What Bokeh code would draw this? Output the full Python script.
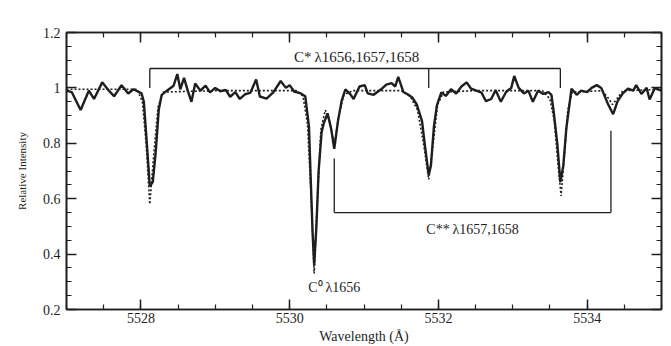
from bokeh.plotting import figure
from bokeh.models import Range1d, FixedTicker, Label, LinearAxis
from bokeh.embed import file_html
from bokeh.resources import INLINE

# ---- observed spectrum (solid line) ----
wavelength = [
    5527.00, 5527.07, 5527.19, 5527.30, 5527.37, 5527.48, 5527.57, 5527.64, 5527.74, 5527.83,
    5527.90, 5528.01, 5528.04, 5528.08, 5528.12, 5528.16, 5528.20, 5528.24, 5528.28, 5528.35,
    5528.44, 5528.49, 5528.53, 5528.58, 5528.63, 5528.68, 5528.73, 5528.80, 5528.87, 5528.93,
    5529.00, 5529.07, 5529.14, 5529.20, 5529.27, 5529.33, 5529.40, 5529.47, 5529.55, 5529.60,
    5529.69, 5529.78, 5529.88, 5529.95, 5530.00, 5530.06, 5530.15, 5530.21, 5530.26, 5530.28,
    5530.31, 5530.33, 5530.36, 5530.39, 5530.43, 5530.46, 5530.51, 5530.56, 5530.60, 5530.65,
    5530.70, 5530.75, 5530.82, 5530.86, 5530.94, 5531.01, 5531.05, 5531.13, 5531.23, 5531.30,
    5531.37, 5531.42, 5531.46, 5531.53, 5531.58, 5531.65, 5531.71, 5531.78, 5531.82, 5531.87,
    5531.90, 5531.94, 5531.98, 5532.04, 5532.10, 5532.17, 5532.24, 5532.31, 5532.38, 5532.44,
    5532.51, 5532.58, 5532.64, 5532.71, 5532.77, 5532.84, 5532.91, 5532.98, 5533.02, 5533.08,
    5533.15, 5533.21, 5533.27, 5533.34, 5533.41, 5533.48, 5533.52, 5533.55, 5533.60, 5533.64,
    5533.68, 5533.72, 5533.79, 5533.86, 5533.92, 5534.00, 5534.06, 5534.13, 5534.19, 5534.28,
    5534.35, 5534.41, 5534.48, 5534.55, 5534.62, 5534.66, 5534.73, 5534.80, 5534.84, 5534.91,
    5535.00,
]
intensity = [
    0.990, 0.985, 0.920, 0.990, 0.960, 1.020, 0.990, 0.970, 1.010, 0.980,
    0.995, 0.980, 0.950, 0.800, 0.645, 0.660, 0.770, 0.920, 0.975, 0.990,
    1.008, 1.050, 0.995, 1.036, 0.990, 0.950, 1.016, 0.990, 1.008, 0.984,
    1.000, 0.988, 0.993, 0.968, 0.985, 0.960, 0.977, 0.982, 1.030, 0.969,
    0.961, 0.984, 1.025, 1.000, 1.010, 0.987, 0.980, 0.970, 0.860, 0.700,
    0.470, 0.360, 0.500, 0.700, 0.840, 0.873, 0.908, 0.850, 0.780, 0.880,
    0.954, 0.995, 0.976, 0.960, 1.005, 1.010, 0.980, 0.975, 0.995, 1.012,
    1.017, 1.005, 1.040, 0.985, 0.978, 0.965, 0.940, 0.880, 0.790, 0.685,
    0.720, 0.860, 0.937, 0.984, 0.971, 0.995, 0.980, 1.005, 1.020, 0.997,
    0.990, 0.983, 0.952, 0.960, 0.992, 0.950, 0.985, 1.000, 1.043, 1.000,
    0.980, 0.990, 0.950, 0.990, 0.978, 0.985, 0.975, 0.915, 0.795, 0.660,
    0.720, 0.853, 0.997, 0.975, 0.990, 0.985, 1.000, 1.010, 1.000, 0.942,
    0.905, 0.952, 0.980, 0.997, 0.990, 1.010, 0.978, 1.000, 0.958, 0.999,
    0.990,
]

# ---- model fit (dotted line) ----
model_wavelength = [
    5527.00, 5527.95, 5528.02, 5528.07, 5528.12, 5528.17, 5528.23, 5528.30, 5529.00, 5529.50,
    5530.10, 5530.18, 5530.24, 5530.29, 5530.33, 5530.37, 5530.42, 5530.48, 5530.54, 5530.60,
    5530.66, 5530.73, 5530.85, 5531.50, 5531.62, 5531.72, 5531.80, 5531.87, 5531.93, 5531.99,
    5532.07, 5532.50, 5533.40, 5533.50, 5533.56, 5533.61, 5533.65, 5533.69, 5533.74, 5533.80,
    5534.20, 5534.28, 5534.34, 5534.40, 5534.48, 5535.00,
]
model_intensity = [
    0.995, 0.995, 0.950, 0.800, 0.580, 0.750, 0.930, 0.985, 0.990, 0.990,
    0.990, 0.970, 0.870, 0.600, 0.330, 0.580, 0.850, 0.920, 0.880, 0.790,
    0.900, 0.975, 0.990, 0.990, 0.970, 0.920, 0.800, 0.670, 0.800, 0.940,
    0.985, 0.990, 0.990, 0.960, 0.880, 0.720, 0.610, 0.740, 0.920, 0.985,
    0.990, 0.965, 0.940, 0.960, 0.990, 0.995,
]

# ---- line identifications ----
cstar_lines = [5528.12, 5531.87, 5533.64]      # C* 1656,1657,1658
cstar2_lines = [5530.60, 5534.32]              # C** 1657,1658
c0_line = 5530.32                              # C0 1656
cstar_label = "C*\u2009\u03bb1656,1657,1658"
cstar2_label = "C**\u2009\u03bb1657,1658"
c0_label = "C\u2070\u2009\u03bb1656"

x_ticks = [5528, 5530, 5532, 5534]
y_ticks = [0.2, 0.4, 0.6, 0.8, 1.0, 1.2]

INK = "#1e1e1e"
FONT = "Liberation Serif"
X0, X1, Y0, Y1 = 5527.0, 5535.0, 0.2, 1.2

p = figure(
    frame_width=595, frame_height=277,
    min_border_left=66, min_border_right=8, min_border_top=32, min_border_bottom=37,
    x_range=Range1d(X0, X1), y_range=Range1d(Y0, Y1),
    output_backend="svg", toolbar_location=None,
    background_fill_color="white", border_fill_color="white",
)
p.grid.visible = False
p.outline_line_color = INK
p.outline_line_width = 1.6

x_minor = [X0 + 0.5 * i for i in range(17)]
y_minor = [round(Y0 + 0.05 * i, 2) for i in range(21)]


def style_axis(ax, labels=True):
    ax.axis_line_color = INK
    ax.axis_line_width = 1.6
    ax.major_tick_line_color = INK
    ax.minor_tick_line_color = INK
    ax.major_tick_line_width = 1.5
    ax.minor_tick_line_width = 1.2
    ax.major_tick_in = 10
    ax.major_tick_out = 0
    ax.minor_tick_in = 5
    ax.minor_tick_out = 0
    ax.major_label_text_font = FONT
    ax.major_label_text_color = INK
    ax.major_label_text_font_size = "14px" if labels else "0px"
    if not labels:
        ax.major_label_standoff = 0
    ax.axis_label_text_font = FONT
    ax.axis_label_text_font_style = "normal"
    ax.axis_label_text_color = INK


xb = p.xaxis[0]
xb.ticker = FixedTicker(ticks=x_ticks, minor_ticks=x_minor)
xb.axis_label = "Wavelength (\u00c5)"
style_axis(xb)
xb.axis_label_text_font_size = "14px"
xb.major_label_standoff = 3
xb.axis_label_standoff = 3

yl = p.yaxis[0]
yl.ticker = FixedTicker(ticks=y_ticks, minor_ticks=y_minor)
yl.axis_label = "Relative Intensity"
style_axis(yl)
yl.axis_label_text_font_size = "11px"
yl.major_label_overrides = {1: "1"}
yl.major_label_standoff = 6
yl.axis_label_standoff = 12

# mirrored inward ticks on the top and right frame edges
xt = LinearAxis(ticker=FixedTicker(ticks=x_ticks, minor_ticks=x_minor))
style_axis(xt, labels=False)
p.add_layout(xt, "above")
yr = LinearAxis(ticker=FixedTicker(ticks=y_ticks, minor_ticks=y_minor))
style_axis(yr, labels=False)
p.add_layout(yr, "right")

# spectrum and model
p.line(model_wavelength, model_intensity, line_color=INK, line_width=1.6, line_dash="2 2")
p.line(wavelength, intensity, line_color=INK, line_width=2.4)

# brackets: C* (above the spectrum)
top_y, top_tick = 1.07, 1.0
p.segment(x0=[min(cstar_lines)], y0=[top_y], x1=[max(cstar_lines)], y1=[top_y],
          line_color=INK, line_width=1.3)
p.segment(x0=cstar_lines, y0=[top_y] * len(cstar_lines), x1=cstar_lines,
          y1=[top_tick] * len(cstar_lines), line_color=INK, line_width=1.3)

# brackets: C** (below the spectrum)
low_y = 0.55
low_tick_tops = [0.745, 0.845]
p.segment(x0=[min(cstar2_lines)], y0=[low_y], x1=[max(cstar2_lines)], y1=[low_y],
          line_color=INK, line_width=1.3)
p.segment(x0=cstar2_lines, y0=[low_y] * len(cstar2_lines), x1=cstar2_lines,
          y1=low_tick_tops, line_color=INK, line_width=1.3)

p.add_layout(Label(x=5530.9, y=1.11, text=cstar_label, text_align="center",
                   text_baseline="alphabetic", text_font=FONT, text_font_size="15px",
                   text_color=INK))
p.add_layout(Label(x=5532.46, y=0.49, text=cstar2_label, text_align="center",
                   text_baseline="alphabetic", text_font=FONT, text_font_size="14px",
                   text_color=INK))
p.add_layout(Label(x=c0_line + 0.28, y=0.28, text=c0_label, text_align="center",
                   text_baseline="alphabetic", text_font=FONT, text_font_size="14px",
                   text_color=INK))

open("out.html", "w").write(file_html(p, INLINE))
